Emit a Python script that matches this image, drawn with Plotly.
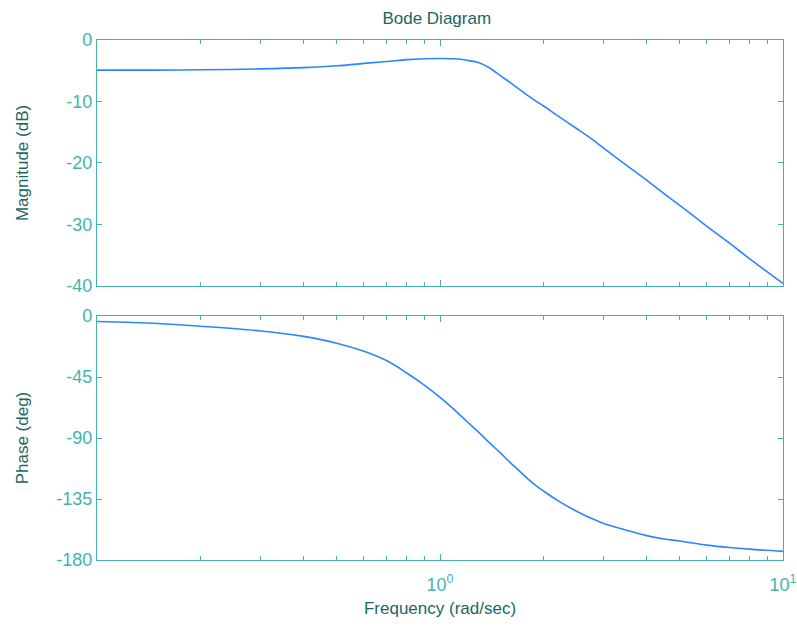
import plotly.graph_objects as go
from plotly.subplots import make_subplots

freq = [0.1, 0.15, 0.2, 0.3, 0.4, 0.5, 0.6, 0.7, 0.8, 0.9, 1.0, 1.1, 1.2, 1.3,
        1.4, 1.5, 1.6, 1.7, 1.8, 1.9, 2.0, 2.2, 2.5, 2.8, 3.0, 3.5, 4.0, 4.5,
        5.0, 6.0, 7.0, 8.0, 10.0]
magnitude_db = [-4.9, -4.9, -4.85, -4.7, -4.5, -4.2, -3.8, -3.5, -3.2, -3.05, -3.0,
                -3.05, -3.3, -3.7, -4.6, -5.8, -6.9, -8.0, -9.0, -9.9, -10.7, -12.3,
                -14.4, -16.3, -17.6, -20.4, -22.8, -25.0, -26.9, -30.3, -33.1,
                -35.6, -39.6]
phase_deg = [-4, -5.5, -7.5, -11, -15, -20, -26, -33, -42, -51, -60, -69, -78, -86,
             -94, -101, -108, -114, -120, -125, -129, -136, -144, -150, -153, -158,
             -162, -164.5, -166, -169, -170.8, -172, -173.6]

major_ticks = [1, 10]
major_text = ["10<sup>0</sup>", "10<sup>1</sup>"]
minor_ticks = [0.1, 0.2, 0.3, 0.4, 0.5, 0.6, 0.7, 0.8, 0.9, 2, 3, 4, 5, 6, 7, 8, 9]
mag_ticks = [0, -10, -20, -30, -40]
mag_text = ["0", "-10", "-20", "-30", "-40"]
phase_ticks = [0, -45, -90, -135, -180]
phase_text = ["0", "-45", "-90", "-135", "-180"]

axis_col = "#45b3a8"
label_col = "#1d6664"
line_col = "#2a86ff"
FONT = "Liberation Sans, Arial"

fig = make_subplots(rows=2, cols=1, shared_xaxes=False, vertical_spacing=0.058,
                    row_heights=[0.502, 0.498])

fig.add_trace(go.Scatter(x=freq, y=magnitude_db, mode="lines", line_shape="spline",
                         line=dict(color=line_col, width=1.6), showlegend=False), row=1, col=1)
fig.add_trace(go.Scatter(x=freq, y=phase_deg, mode="lines", line_shape="spline",
                         line=dict(color=line_col, width=1.6), showlegend=False), row=2, col=1)

xcommon = dict(type="log", range=[-1, 1], showgrid=False, zeroline=False, automargin=False,
               showline=True, linecolor=axis_col, linewidth=1.2, mirror="allticks",
               ticks="inside", ticklen=6, tickcolor=axis_col,
               tickvals=major_ticks, ticktext=major_text,
               minor=dict(tickmode="array", tickvals=minor_ticks, ticks="inside",
                          ticklen=4, tickcolor=axis_col),
               tickfont=dict(family=FONT, size=18, color=axis_col))
fig.update_xaxes(**xcommon)
fig.update_xaxes(showticklabels=False, row=1, col=1)
fig.update_xaxes(ticklabelstandoff=8,
                 title=dict(text="Frequency (rad/sec)",
                            font=dict(family=FONT, size=17, color=label_col),
                            standoff=8), row=2, col=1)

ycommon = dict(showgrid=False, zeroline=False, showline=True, linecolor=axis_col,
               linewidth=1.2, mirror="allticks", ticks="inside", ticklen=5,
               tickcolor=axis_col, automargin=False,
               tickfont=dict(family=FONT, size=18, color=axis_col))
fig.update_yaxes(**ycommon)
fig.update_yaxes(range=[-40, 0], tickvals=mag_ticks, ticktext=mag_text,
                 title=dict(text="Magnitude (dB)",
                            font=dict(family=FONT, size=17, color=label_col),
                            standoff=33), row=1, col=1)
fig.update_yaxes(range=[-180, 0], tickvals=phase_ticks, ticktext=phase_text,
                 title=dict(text="Phase (deg)",
                            font=dict(family=FONT, size=17, color=label_col),
                            standoff=23), row=2, col=1)

fig.update_layout(
    width=797, height=626,
    margin=dict(l=97, r=14, t=40, b=66),
    paper_bgcolor="white", plot_bgcolor="white",
    title=dict(text="Bode Diagram", x=0.548, xanchor="center", y=0.971, yanchor="middle",
               font=dict(family=FONT, size=17, color=label_col)),
)

fig.write_html("out.html", config={"displayModeBar": False},
               post_script="document.body.style.margin='0';document.body.style.padding='0';")
